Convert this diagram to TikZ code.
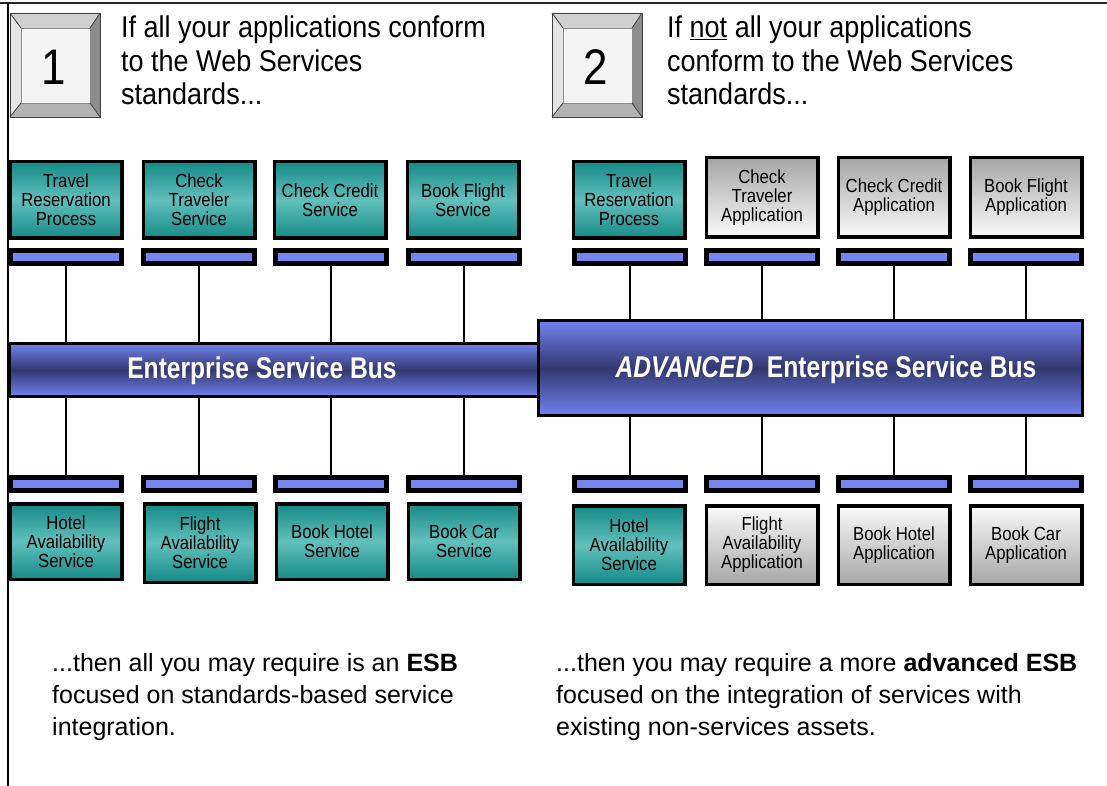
\documentclass[tikz,border=0pt]{standalone}
\usepackage{fontspec}
\setmainfont{Liberation Sans}
\newfontfamily\headfont[FakeStretch=0.9]{Liberation Sans}
\newfontfamily\labelfont[FakeStretch=0.88]{Liberation Sans}
\newfontfamily\busfont[FakeStretch=0.82]{Liberation Sans}
\newfontfamily\numfont[FakeStretch=0.88]{Liberation Sans}

\definecolor{tealdark}{RGB}{20,138,134}
\definecolor{teallight}{RGB}{98,192,188}
\definecolor{appgray}{RGB}{166,166,166}
\definecolor{appwhite}{RGB}{250,250,250}
\definecolor{busblue}{RGB}{114,130,238}
\definecolor{busnavy}{RGB}{50,56,112}
\definecolor{barblue}{RGB}{120,132,240}
\definecolor{bevtop}{RGB}{208,208,208}
\definecolor{bevleft}{RGB}{228,228,228}
\definecolor{bevright}{RGB}{140,140,140}
\definecolor{bevbottom}{RGB}{178,178,178}
\definecolor{bevface}{RGB}{244,244,244}

\tikzset{
  svc/.style={draw=black, line width=3.5pt, top color=tealdark, bottom color=tealdark,
    middle color=teallight, minimum width=111.5pt, minimum height=76.5pt,
    inner sep=0pt, outer sep=0pt, align=center,
    font=\labelfont\fontsize{19}{19}\selectfont},
  appup/.style={svc, top color=appgray, bottom color=appwhite},
  appdown/.style={svc, top color=appwhite, bottom color=appgray},
  portbar/.style={draw=black, fill=barblue, line width=5pt, minimum width=111pt,
    minimum height=13pt, inner sep=0pt, outer sep=0pt},
  bus/.style={draw=black, line width=3pt, top color=busblue, bottom color=busblue,
    middle color=busnavy, inner sep=0pt, outer sep=0pt},
  bustext/.style={text=white, inner sep=0pt,
    font=\busfont\bfseries\fontsize{30}{30}\selectfont},
  wire/.style={draw=black, line width=1.4pt},
  headline/.style={anchor=base west, inner sep=0pt,
    font=\headfont\fontsize{30}{34}\selectfont},
  noteline/.style={anchor=base west, inner sep=0pt,
    font=\fontsize{25}{32}\selectfont},
  bevedge/.style={draw=black!75, line width=0.8pt, line join=round},
}

\begin{document}
\begin{tikzpicture}[x=1pt, y=-1pt]
\useasboundingbox (0,0) rectangle (1107,786);

% page frame
\draw[line width=2.6pt, black!85] (0,3) -- (1107,3);
\draw[line width=1.5pt, black] (8,3) -- (8,786);

% numbered keys
\foreach \dx/\num in {0/1, 542/2} {
  \begin{scope}[xshift=\dx pt]
    \fill[bevtop]    (10,13) -- (100,13) -- (90,28) -- (21,28) -- cycle;
    \fill[bevleft]   (10,13) -- (21,28) -- (21,103) -- (10,117) -- cycle;
    \fill[bevright]  (100,13) -- (100,117) -- (90,103) -- (90,28) -- cycle;
    \fill[bevbottom] (10,117) -- (21,103) -- (90,103) -- (100,117) -- cycle;
    \draw[bevedge, fill=bevface, draw=black!45] (21,28) rectangle (90,103);
    \draw[bevedge] (10,13) rectangle (100,117);
    \draw[bevedge] (10,13) -- (21,28) (100,13) -- (90,28)
                   (10,117) -- (21,103) (100,117) -- (90,103);
    \node[inner sep=0pt, font=\numfont\fontsize{50}{50}\selectfont] (key\num) at (54,67) {\num};
  \end{scope}
}

% headings
\node[headline] (h1a) at (121,38)  {If all your applications conform};
\node[headline] (h1b) at (121,72)  {to the Web Services};
\node[headline] (h1c) at (121,105) {standards...};
\node[headline] (h2a) at (667,38)  {If \underline{not} all your applications};
\node[headline] (h2b) at (667,72)  {conform to the Web Services};
\node[headline] (h2c) at (667,105) {standards...};

% upper services and applications
\node[svc]    (tl1) at (66,200)  {Travel\\Reservation\\Process};
\node[svc]    (tl2) at (199,200) {Check\\Traveler\\Service};
\node[svc]    (tl3) at (330,200) {Check Credit\\Service};
\node[svc]    (tl4) at (463,200) {Book Flight\\Service};
\node[svc]    (tr1) at (629,200) {Travel\\Reservation\\Process};
\node[appup, minimum height=79.5pt] (tr2) at (762,197.5) {Check\\Traveler\\Application};
\node[appup, minimum height=79.5pt] (tr3) at (894,197.5) {Check Credit\\Application};
\node[appup, minimum height=79.5pt] (tr4) at (1026,197.5) {Book Flight\\Application};

% lower services and applications
\node[svc, minimum height=75.5pt] (bl1) at (66,541.5)  {Hotel\\Availability\\Service};
\node[svc, minimum height=78.5pt] (bl2) at (200,543)   {Flight\\Availability\\Service};
\node[svc, minimum height=75.5pt] (bl3) at (332,541.5) {Book Hotel\\Service};
\node[svc, minimum height=75.5pt] (bl4) at (464,541.5) {Book Car\\Service};
\node[svc, minimum height=78.5pt]     (br1) at (629,545)  {Hotel\\Availability\\Service};
\node[appdown, minimum height=78.5pt] (br2) at (762,545)  {Flight\\Availability\\Application};
\node[appdown, minimum height=78.5pt] (br3) at (894,545)  {Book Hotel\\Application};
\node[appdown, minimum height=78.5pt] (br4) at (1026,545) {Book Car\\Application};

% service ports
\foreach \n/\x in {1/66, 2/199, 3/331, 4/464} {
  \node[portbar] (ptl\n) at (\x,257) {};
  \node[portbar] (pbl\n) at (\x,484) {};
}
\foreach \n/\x in {1/630, 2/762, 3/894, 4/1026} {
  \node[portbar] (ptr\n) at (\x,257) {};
  \node[portbar] (pbr\n) at (\x,484) {};
}

% buses
\node[bus, minimum width=529pt, minimum height=53pt] (esb) at (274,370) {};
\node[bus, minimum width=544pt, minimum height=95pt] (aesb) at (810.5,368) {};
\node[bustext] (esbtext) at (262,371) {Enterprise Service Bus};
\node[bustext] (aesbtext) at (826,370) {\itshape ADVANCED\ \ \upshape Enterprise Service Bus};

% connections to the buses
\foreach \n in {1,2,3,4} {
  \draw[wire] (ptl\n.south) -- (ptl\n.south |- esb.north);
  \draw[wire] (pbl\n.north) -- (pbl\n.north |- esb.south);
  \draw[wire] (ptr\n.south) -- (ptr\n.south |- aesb.north);
  \draw[wire] (pbr\n.north) -- (pbr\n.north |- aesb.south);
}

% conclusions
\node[noteline] (n1a) at (52,671) {...then all you may require is an \textbf{ESB}};
\node[noteline] (n1b) at (52,703) {focused on standards-based service};
\node[noteline] (n1c) at (52,735) {integration.};
\node[noteline] (n2a) at (556,671) {...then you may require a more \textbf{advanced ESB}};
\node[noteline] (n2b) at (556,703) {focused on the integration of services with};
\node[noteline] (n2c) at (556,735) {existing non-services assets.};
\end{tikzpicture}
\end{document}
